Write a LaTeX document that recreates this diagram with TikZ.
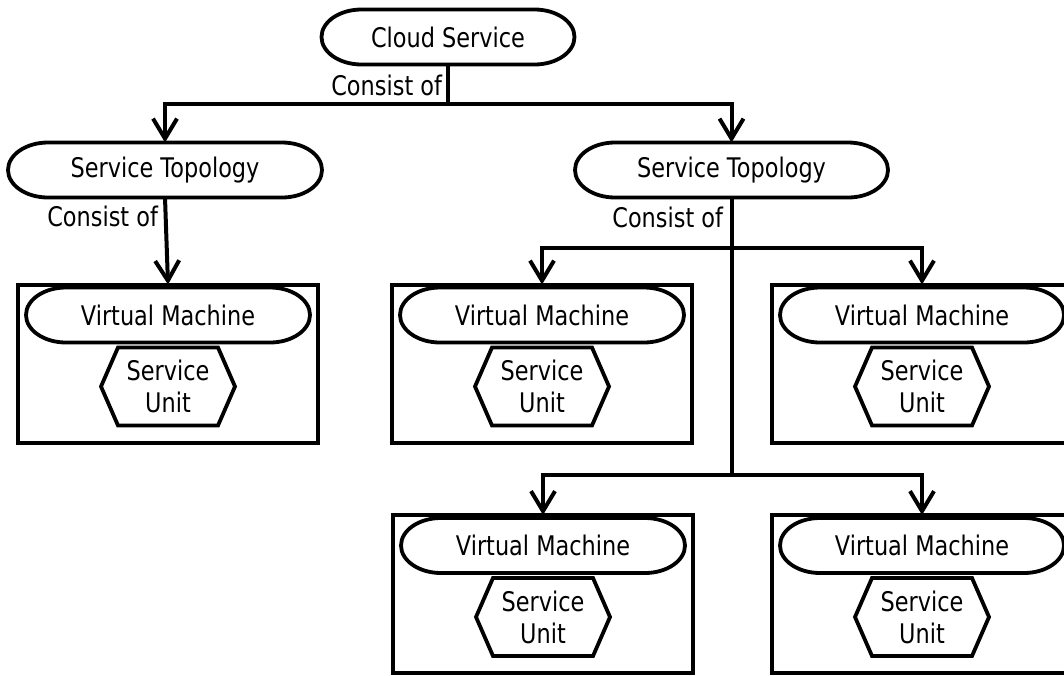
\documentclass[tikz,border=0pt]{standalone}
\usepackage{fontspec}
\setmainfont{DejaVu Sans}[FakeStretch=0.83]
\usetikzlibrary{arrows.meta,positioning}

\begin{document}
\begin{tikzpicture}[x=1pt,y=-1pt,
    font=\fontsize{27pt}{32pt}\selectfont,
    every node/.style={outer sep=0pt},
    pill/.style={minimum width=#1,minimum height=55pt,inner sep=0pt},
    vmbox/.style={draw,line width=4pt,minimum width=300pt,minimum height=158pt},
    unit/.style={minimum width=134pt,minimum height=78pt,inner sep=0pt,align=center},
    lbl/.style={inner sep=0pt,anchor=east},
    link/.style={line width=4pt},
    outline/.style={line width=3.8pt},
    arr/.style={link,-{Straight Barb[length=20pt,width=24pt]}}]
  \useasboundingbox (0,0) rectangle (1064,675);
  % top of the tree
  \node[pill=253pt] (cs) at (448,37) {Cloud Service};
  \node[pill=314pt] (topoL) at (165,170) {Service Topology};
  \node[pill=313pt] (topoR) at (731.5,170) {Service Topology};
  % machines with their units
  \foreach \n/\x/\y in {A/168/363.5,B/542/363.5,C/922/363.5,D/543/594,E/922/594}{
    \node[vmbox] (box\n) at (\x,\y) {};
    \node[pill=284pt,below=3pt of box\n.north] (vm\n) {Virtual Machine};
    \node[unit,below=5pt of vm\n] (su\n) {Service\\Unit};
  }
  \foreach \s in {cs,topoL,topoR,vmA,vmB,vmC,vmD,vmE}
    \draw[outline] ([xshift=40pt]\s.north west) -- ([xshift=-40pt]\s.north east)
      arc[start angle=90,end angle=-90,x radius=40pt,y radius=27.5pt]
      -- ([xshift=40pt]\s.south west)
      arc[start angle=270,end angle=90,x radius=40pt,y radius=27.5pt] -- cycle;
  \foreach \s in {suA,suB,suC,suD,suE}
    \draw[outline] ([xshift=17pt]\s.north west) -- ([xshift=-17pt]\s.north east)
      -- (\s.east) -- ([xshift=-17pt]\s.south east)
      -- ([xshift=17pt]\s.south west) -- (\s.west) -- cycle;
  % connectors
  \coordinate (jTop) at (448,104);
  \coordinate (jMid) at (731.5,248);
  \coordinate (jLow) at (731.5,475);
  \draw[link] (cs.south) -- (jTop);
  \draw[arr] (jTop) -| (topoL.north);
  \draw[arr] (jTop) -| (topoR.north);
  \draw[arr] (topoL.south) -- (boxA.north);
  \draw[link] (topoR.south) -- (jLow);
  \draw[arr] (jMid) -| (boxB.north);
  \draw[arr] (jMid) -| (boxC.north);
  \draw[arr] (jLow) -| (boxD.north);
  \draw[arr] (jLow) -| (boxE.north);
  \node[lbl] (lblTop) at (442,85) {Consist of};
  \node[lbl] (lblLeft) at (158,216.5) {Consist of};
  \node[lbl] (lblRight) at (723,217.5) {Consist of};
\end{tikzpicture}
\end{document}
